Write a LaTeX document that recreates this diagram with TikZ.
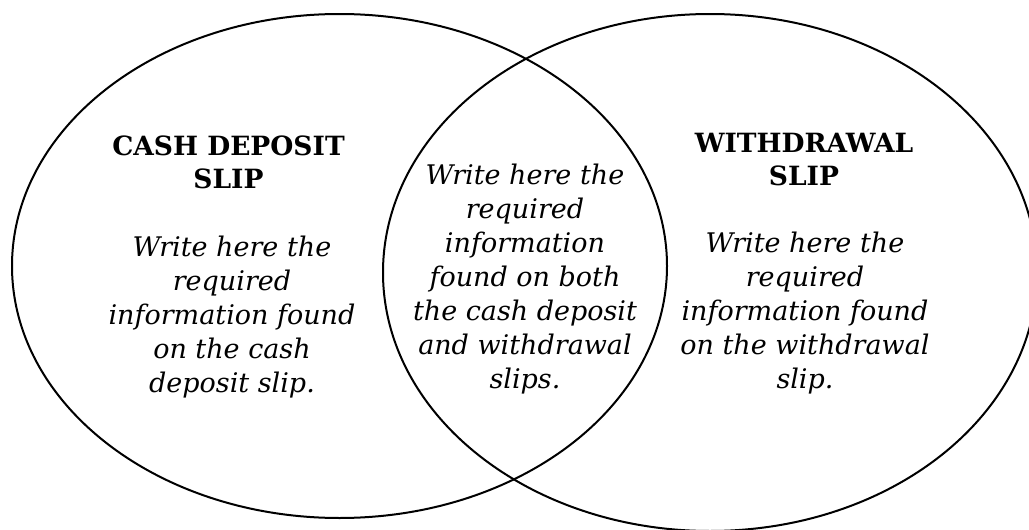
\documentclass[tikz,border=0pt]{standalone}
\usepackage{fontspec}
\setmainfont{DejaVu Serif}
\begin{document}
\begin{tikzpicture}[x=1pt,y=-1pt,
  venn/.style={line width=2pt, black},
  head/.style={font=\fontsize{26.5}{33}\selectfont\bfseries, align=center, inner sep=0pt, anchor=base},
  body/.style={font=\fontsize{27}{34}\selectfont\itshape, align=center, inner sep=0pt, anchor=base}]
\useasboundingbox (0,0) rectangle (1029,530);
\begin{scope}
\clip (0,0) rectangle (1029,530);
\draw[venn] (339.5,266) ellipse [x radius=327.5, y radius=252];
\draw[venn] (710,272.5) ellipse [x radius=327, y radius=258.5];
\end{scope}
\node[head] (lhead) at (228.5,188) {CASH DEPOSIT\\SLIP};
\node[body] (lbody) at (232,392) {Write here the\\required\\information found\\on the cash\\deposit slip.};
\node[body] (mbody) at (525,388) {Write here the\\required\\information\\found on both\\the cash deposit\\and withdrawal\\slips.};
\node[head] (rhead) at (804,185) {WITHDRAWAL\\SLIP};
\node[body] (rbody) at (805,388) {Write here the\\required\\information found\\on the withdrawal\\slip.};
\end{tikzpicture}
\end{document}
